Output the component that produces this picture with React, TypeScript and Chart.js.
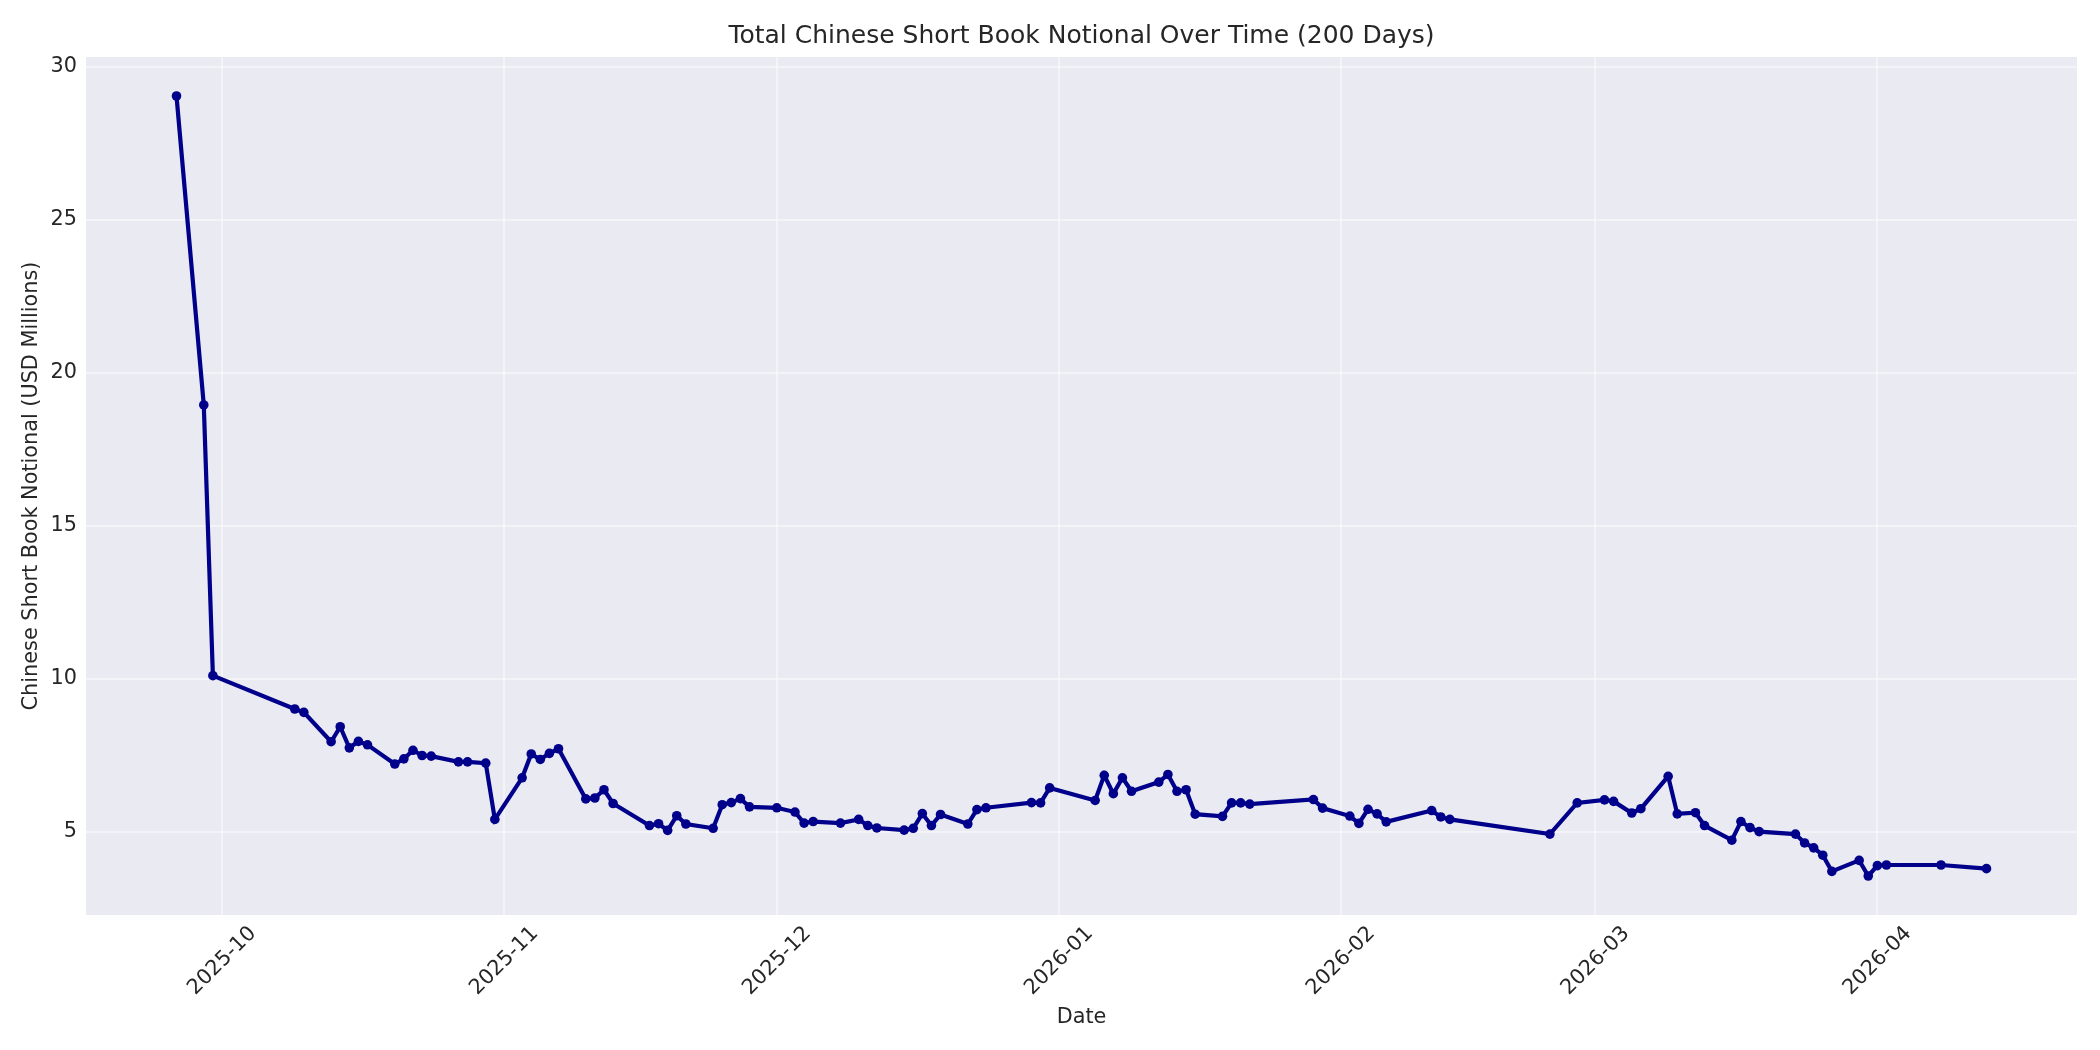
import { useEffect, useRef } from "react";
import { Chart, registerables } from "chart.js";

Chart.register(...registerables);

// trading days (UTC) and total short book notional, USD millions
const dates = [
  "2025-09-26", "2025-09-29", "2025-09-30",
  "2025-10-09", "2025-10-10", "2025-10-13", "2025-10-14", "2025-10-15", "2025-10-16", "2025-10-17",
  "2025-10-20", "2025-10-21", "2025-10-22", "2025-10-23", "2025-10-24", "2025-10-27", "2025-10-28",
  "2025-10-30", "2025-10-31",
  "2025-11-03", "2025-11-04", "2025-11-05", "2025-11-06", "2025-11-07", "2025-11-10", "2025-11-11",
  "2025-11-12", "2025-11-13", "2025-11-17", "2025-11-18", "2025-11-19", "2025-11-20", "2025-11-21",
  "2025-11-24", "2025-11-25", "2025-11-26", "2025-11-27", "2025-11-28",
  "2025-12-01", "2025-12-03", "2025-12-04", "2025-12-05", "2025-12-08", "2025-12-10", "2025-12-11",
  "2025-12-12", "2025-12-15", "2025-12-16", "2025-12-17", "2025-12-18", "2025-12-19", "2025-12-22",
  "2025-12-23", "2025-12-24", "2025-12-29", "2025-12-30", "2025-12-31",
  "2026-01-05", "2026-01-06", "2026-01-07", "2026-01-08", "2026-01-09", "2026-01-12", "2026-01-13",
  "2026-01-14", "2026-01-15", "2026-01-16", "2026-01-19", "2026-01-20", "2026-01-21", "2026-01-22",
  "2026-01-29", "2026-01-30",
  "2026-02-02", "2026-02-03", "2026-02-04", "2026-02-05", "2026-02-06", "2026-02-11", "2026-02-12",
  "2026-02-13", "2026-02-24", "2026-02-27",
  "2026-03-02", "2026-03-03", "2026-03-05", "2026-03-06", "2026-03-09", "2026-03-10", "2026-03-12",
  "2026-03-13", "2026-03-16", "2026-03-17", "2026-03-18", "2026-03-19", "2026-03-23", "2026-03-24",
  "2026-03-25", "2026-03-26", "2026-03-27", "2026-03-30", "2026-03-31",
  "2026-04-01", "2026-04-02", "2026-04-08", "2026-04-13",
];

const notional = [
  29.05, 18.95, 10.1,
  9.01, 8.9, 7.94, 8.43, 7.74, 7.95, 7.84,
  7.21, 7.38, 7.66, 7.49, 7.47, 7.28, 7.28,
  7.24, 5.4,
  6.76, 7.54, 7.36, 7.56, 7.71, 6.07, 6.1,
  6.37, 5.92, 5.2, 5.26, 5.04, 5.52, 5.25,
  5.11, 5.88, 5.95, 6.08, 5.81,
  5.78, 5.64, 5.28, 5.33, 5.28, 5.4, 5.2,
  5.12, 5.05, 5.11, 5.59, 5.2, 5.56, 5.25,
  5.72, 5.78, 5.95, 5.94, 6.43,
  6.02, 6.84, 6.24, 6.76, 6.32, 6.62, 6.87,
  6.32, 6.37, 5.57, 5.5, 5.94, 5.94, 5.9,
  6.05, 5.77,
  5.51, 5.27, 5.73, 5.58, 5.32, 5.69, 5.48,
  5.4, 4.92, 5.94,
  6.04, 5.99, 5.61, 5.75, 6.81, 5.58, 5.62,
  5.2, 4.72, 5.33, 5.13, 5.0, 4.92, 4.63,
  4.47, 4.23, 3.7, 4.06, 3.55,
  3.89, 3.91, 3.91, 3.79,
];

const monthTicks = [
  "2025-10-01", "2025-11-01", "2025-12-01", "2026-01-01",
  "2026-02-01", "2026-03-01", "2026-04-01",
];
const yTicks = [5, 10, 15, 20, 25, 30];

const toTime = (d: string) => Date.parse(d + "T00:00:00Z");

const FONT = "'DejaVu Sans', sans-serif";
const TEXT = "#262626";
const GRID = "rgba(255, 255, 255, 0.45)";

// matplotlib-style axes face
const plotBg = {
  id: "plotBg",
  beforeDraw(chart: Chart) {
    const { ctx, chartArea } = chart;
    ctx.save();
    ctx.fillStyle = "#EAEAF2";
    ctx.fillRect(chartArea.left, chartArea.top, chartArea.width, chartArea.height);
    ctx.restore();
  },
};

export default function App() {
  const canvasRef = useRef<HTMLCanvasElement | null>(null);

  useEffect(() => {
    if (!canvasRef.current) return;

    const xs = dates.map(toTime);
    const xPad = (xs[xs.length - 1] - xs[0]) * 0.05;
    const yLo = Math.min(...notional);
    const yHi = Math.max(...notional);
    const yPad = (yHi - yLo) * 0.05;
    const points = dates.map((d, i) => ({ x: toTime(d), y: notional[i] }));

    const chart = new Chart(canvasRef.current, {
      type: "line",
      data: {
        datasets: [
          {
            data: points,
            borderColor: "#00008B",
            backgroundColor: "#00008B",
            borderWidth: 4.2,
            pointRadius: 4.8,
            pointBackgroundColor: "#00008B",
            pointBorderWidth: 0,
            tension: 0,
            fill: false,
          },
        ],
      },
      options: {
        responsive: false,
        animation: false,
        layout: { padding: { left: 0, right: 23, top: 0, bottom: 0 } },
        plugins: {
          legend: { display: false },
          tooltip: { enabled: false },
          title: {
            display: true,
            fullSize: false,
            text: "Total Chinese Short Book Notional Over Time (200 Days)",
            color: TEXT,
            font: { family: FONT, size: 25, weight: "normal" },
            padding: { top: 21, bottom: 6 },
          },
        },
        scales: {
          x: {
            type: "linear",
            min: xs[0] - xPad,
            max: xs[xs.length - 1] + xPad,
            grid: { color: GRID, lineWidth: 2, drawTicks: false },
            border: { display: false },
            afterBuildTicks: (scale: any) => {
              scale.ticks = monthTicks.map((m) => ({ value: toTime(m) }));
            },
            afterFit: (scale: any) => {
              scale.height = 135;
            },
            ticks: {
              autoSkip: false,
              minRotation: 45,
              maxRotation: 45,
              labelOffset: 31,
              padding: 6.5,
              color: TEXT,
              font: { family: FONT, size: 20.8 },
              callback: (v: any) => new Date(Number(v)).toISOString().slice(0, 7),
            },
            title: {
              display: true,
              text: "Date",
              color: TEXT,
              font: { family: FONT, size: 20.8 },
              padding: { top: 0, bottom: 19.5 },
            },
          },
          y: {
            min: yLo - yPad,
            max: yHi + yPad,
            grid: { color: GRID, lineWidth: 2, drawTicks: false },
            border: { display: false },
            afterBuildTicks: (scale: any) => {
              scale.ticks = yTicks.map((v) => ({ value: v }));
            },
            afterFit: (scale: any) => {
              scale.width = 86;
            },
            ticks: {
              padding: 9,
              color: TEXT,
              font: { family: FONT, size: 20.8 },
              callback: (v: any) => String(v),
            },
            title: {
              display: true,
              text: "Chinese Short Book Notional (USD Millions)",
              color: TEXT,
              font: { family: FONT, size: 20.8 },
              padding: { top: 19.5, bottom: 0 },
            },
          },
        },
      },
      plugins: [plotBg],
    });

    return () => chart.destroy();
  }, []);

  return (
    <div style={{ position: "absolute", left: 0, top: 0, width: 2100, height: 1050, background: "#fff" }}>
      <canvas ref={canvasRef} width={2100} height={1050} />
    </div>
  );
}
